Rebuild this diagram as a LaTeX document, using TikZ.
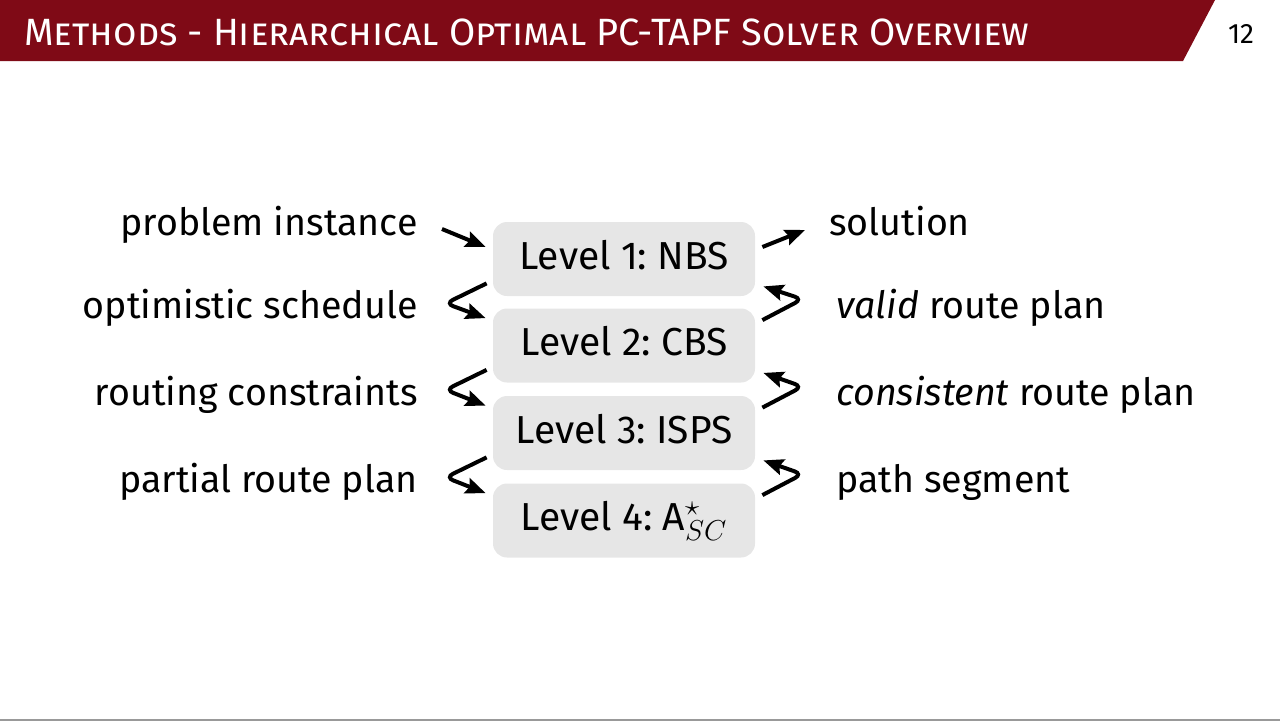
\documentclass[tikz,border=0pt]{standalone}
\usepackage{fontspec}
\setmainfont{Fira Sans}
\usetikzlibrary{arrows.meta,calc,positioning}
\definecolor{hdred}{HTML}{7F0A16}
\definecolor{boxgray}{HTML}{E6E6E6}
\frenchspacing
\DeclareMathSizes{19.5}{19.5}{15.5}{12}
\tikzset{
  level/.style={fill=boxgray,rounded corners=7pt,minimum width=131pt,minimum height=37pt,
    inner sep=0,text height=1em,text depth=0pt,font=\fontsize{19.5}{22}\selectfont},
  lbl/.style={inner sep=0,text height=0.69em,text depth=0pt,font=\fontsize{18.8}{22}\selectfont},
}
\begin{document}
\begin{tikzpicture}[x=0.5pt,y=0.5pt,
      trans/.style={-{Stealth[length=10pt,width=8pt,inset=1.5pt]},line width=2pt},
      back/.style={trans,rounded corners=4pt},
      ]
      \useasboundingbox (0,0) rectangle (1280,720);
      % header bar
      \fill[hdred] (0,720) -- (1215,720) -- (1183,659) -- (0,659) -- cycle;
      \node (title) [anchor=base west,inner sep=0,white,font=\fontsize{19}{22}\selectfont\scshape] at (24,675)
        {Methods - Hierarchical Optimal PC-TAPF Solver Overview};
      \node (page) at (1241,686) [font=\fontsize{14}{16}\selectfont] {12};
      \draw[black!40,line width=1pt] (0,0.5) -- (1280,0.5);

      % solver levels
      \node (l1) at (624,461) [level] {Level 1: NBS};
      \node (l2) at (624,374.5) [level] {Level 2: CBS};
      \node (l3) at (624,287) [level] {Level 3: ISPS};
      \node (l4) at (624,199.5) [level] {Level 4: A$^\star_{SC}$};

      % inputs going down
      \node (pin) at (418,491) [lbl,anchor=east] {problem instance};
      \node (sched) at (418,408) [lbl,anchor=east] {optimistic schedule};
      \node (cons) at (418,321) [lbl,anchor=east] {routing constraints};
      \node (part) at (418,234) [lbl,anchor=east] {partial route plan};

      % results going up
      \node (sol) at (829,491) [lbl,anchor=west] {solution};
      \node (valid) at (836,408) [lbl,anchor=west] {\textit{valid} route plan};
      \node (consist) at (836,321) [lbl,anchor=west] {\textit{consistent} route plan};
      \node (seg) at (836,234) [lbl,anchor=west] {path segment};

      \draw [trans] ($(pin.east)+(24,0)$) -- ($(l1.west)+(-7,12)$);
      \draw [trans] ($(l1.east)+(7,12)$) -- ($(sol.west)+(-24,-1)$);
      \foreach \a/\b in {l1/l2,l2/l3,l3/l4} {
        \draw [back] ($(\a.south west)+(-6,13)$) -- ++(-41,-20) -- ($(\b.north west)+(-7,-10)$);
        \draw [back] ($(\b.north east)+(7,-12)$) -- ++(40,21) -- ($(\a.south east)+(8,10)$);
      }
    \end{tikzpicture}
\end{document}
